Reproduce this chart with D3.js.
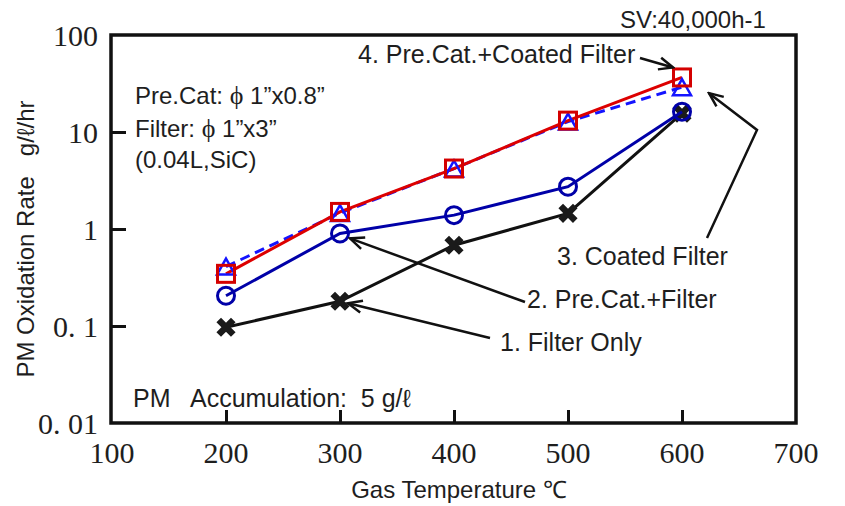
<!DOCTYPE html>
<html>
<head>
<meta charset="utf-8">
<script src="https://cdn.jsdelivr.net/npm/d3@7"></script>
<style>
  html, body { margin: 0; padding: 0; background: #fff; }
  svg { display: block; }
  .sans { font-family: "Liberation Sans", Arial, sans-serif; fill: #1e1e1e; }
  .serif { font-family: "Liberation Serif", "Times New Roman", serif; fill: #1e1e1e; }
</style>
</head>
<body>
<svg id="chart" width="845" height="506"></svg>
<script>
// Gas temperature (°C) at which each configuration was measured
const temperatures = [200, 300, 400, 500, 600];

// PM oxidation rate, g/ℓ/hr
const filterOnly        = [0.097, 0.18, 0.68, 1.45, 15.6];
const preCatFilter      = [0.205, 0.90, 1.39, 2.73, 16.2];
const coatedFilter      = [0.41, 1.46, 4.2, 12.8, 29];
const preCatCoated      = [0.345, 1.5, 4.2, 13.1, 36.5];

const xTicks = [100, 200, 300, 400, 500, 600, 700];
const yTicks = [0.01, 0.1, 1, 10, 100];
const yTickLabels = ["0. 01", "0. 1", "1", "10", "100"];

const svg = d3.select("#chart");

const x = d3.scaleLinear().domain([100, 700]).range([112, 796]);
const y = d3.scaleLog().domain([0.01, 100]).range([423, 35]);

// arrowhead: open chevron
const defs = svg.append("defs");
defs.append("marker")
  .attr("id", "arrow")
  .attr("markerUnits", "userSpaceOnUse")
  .attr("viewBox", "-16 -8 18 16")
  .attr("markerWidth", 18).attr("markerHeight", 16)
  .attr("refX", 0).attr("refY", 0)
  .attr("orient", "auto")
  .append("path")
  .attr("d", "M-14,-6 L0,0 L-14,6")
  .attr("fill", "none").attr("stroke", "#111").attr("stroke-width", 2.5);

// axes with inward ticks
const xAxis = d3.axisBottom(x).tickValues(xTicks.slice(1, -1)).tickSize(-13).tickFormat("");
const yAxis = d3.axisLeft(y).tickValues(yTicks.slice(1, -1)).tickSize(-14).tickFormat("");

const gx = svg.append("g").attr("transform", `translate(0,${y(0.01)})`).call(xAxis);
const gy = svg.append("g").attr("transform", `translate(${x(100)},0)`).call(yAxis);
[gx, gy].forEach(g => {
  g.select(".domain").remove();
  g.selectAll(".tick line").attr("stroke", "#111").attr("stroke-width", 3);
});

// frame
svg.append("rect")
  .attr("x", x(100) - 1).attr("y", y(100))
  .attr("width", x(700) - x(100) + 1).attr("height", y(0.01) - y(100))
  .attr("fill", "none").attr("stroke", "#111").attr("stroke-width", 3.5);

// tick labels
svg.selectAll(".xlab").data(xTicks).join("text")
  .attr("class", "serif")
  .attr("x", d => x(d)).attr("y", 463)
  .attr("text-anchor", "middle")
  .attr("font-size", 30)
  .text(d => d);

svg.selectAll(".ylab").data(yTicks).join("text")
  .attr("class", "serif")
  .attr("x", 98).attr("y", d => y(d) + 11)
  .attr("text-anchor", "end")
  .attr("font-size", 30)
  .text((d, i) => yTickLabels[i]);

// axis titles
svg.append("text").attr("class", "sans")
  .attr("x", 459).attr("y", 498)
  .attr("text-anchor", "middle").attr("font-size", 24)
  .text("Gas Temperature ℃");

svg.append("text").attr("class", "sans")
  .attr("transform", `translate(34,239) rotate(-90)`)
  .attr("text-anchor", "middle").attr("font-size", 24)
  .style("white-space", "pre")
  .text("PM Oxidation Rate   g/ℓ/hr");

// series lines and markers
const pts = vals => temperatures.map((t, i) => [t, vals[i]]);
const line = d3.line().x(d => x(d[0])).y(d => y(d[1]));

// 1. Filter Only
svg.append("path").datum(pts(filterOnly)).attr("d", line)
  .attr("fill", "none").attr("stroke", "#111").attr("stroke-width", 3);
svg.selectAll(".m1").data(pts(filterOnly)).join("path")
  .attr("transform", d => `translate(${x(d[0])},${y(d[1])})`)
  .attr("d", d3.symbol(d3.symbolTimes, 140))
  .attr("fill", "none").attr("stroke", "#1a1a1a").attr("stroke-width", 6.5);

// 3. Coated Filter (dashed)
svg.append("path").datum(pts(coatedFilter)).attr("d", line)
  .attr("fill", "none").attr("stroke", "#1414ff").attr("stroke-width", 3)
  .attr("stroke-dasharray", "10,6");

// 2. Pre.Cat.+Filter
svg.append("path").datum(pts(preCatFilter)).attr("d", line)
  .attr("fill", "none").attr("stroke", "#0000a8").attr("stroke-width", 3);

// 4. Pre.Cat.+Coated Filter
svg.append("path").datum(pts(preCatCoated)).attr("d", line)
  .attr("fill", "none").attr("stroke", "#dd0000").attr("stroke-width", 3);

svg.selectAll(".m3").data(pts(coatedFilter)).join("path")
  .attr("transform", d => `translate(${x(d[0])},${y(d[1]) + 1})`)
  .attr("d", "M0,-9 L9,7 L-9,7 Z")
  .attr("fill", "none").attr("stroke", "#1414ff").attr("stroke-width", 2.5);

svg.selectAll(".m2").data(pts(preCatFilter)).join("circle")
  .attr("cx", d => x(d[0])).attr("cy", d => y(d[1])).attr("r", 8.5)
  .attr("fill", "none").attr("stroke", "#0000a8").attr("stroke-width", 3);

svg.selectAll(".m4").data(pts(preCatCoated)).join("rect")
  .attr("x", d => x(d[0]) - 8.5).attr("y", d => y(d[1]) - 8.5)
  .attr("width", 17).attr("height", 17)
  .attr("fill", "none").attr("stroke", "#d40000").attr("stroke-width", 3);

// annotation arrows
const arrow = p => svg.append("path")
  .attr("d", d3.line()(p))
  .attr("fill", "none").attr("stroke", "#111").attr("stroke-width", 2.5)
  .attr("marker-end", "url(#arrow)");

arrow([[640, 58], [x(600) - 9, y(preCatCoated[4]) - 10]]);
arrow([[707, 238], [757, 130], [x(600) + 27, y(coatedFilter[4]) + 6]]);
arrow([[525, 302], [x(300) + 10, y(preCatFilter[1]) + 5]]);
arrow([[490, 338], [x(300) + 8, y(filterOnly[1]) + 2]]);

// labels
const label = (tx, ty, s) => svg.append("text").attr("class", "sans")
  .attr("x", tx).attr("y", ty).attr("font-size", 25).text(s);

label(620, 28, "SV:40,000h-1").attr("font-size", 24);
label(358, 63, "4. Pre.Cat.+Coated Filter");
label(557, 265, "3. Coated Filter");
label(527, 308, "2. Pre.Cat.+Filter");
label(500, 351, "1. Filter Only");

// test configuration
const spec = svg.append("g").attr("class", "sans").attr("font-size", 24);
const phiLine = (ty, before, after) => {
  const t = spec.append("text").attr("x", 135).attr("y", ty).style("white-space", "pre");
  t.append("tspan").text(before);
  t.append("tspan").attr("class", "serif").attr("font-size", 26).text("ϕ");
  t.append("tspan").text(after);
};
phiLine(104, "Pre.Cat: ", " 1”x0.8”");
phiLine(137, "Filter: ", " 1”x3”");
spec.append("text").attr("x", 135).attr("y", 168).text("(0.04L,SiC)");

svg.append("text").attr("class", "sans")
  .attr("x", 133).attr("y", 407).attr("font-size", 25)
  .style("white-space", "pre")
  .text("PM   Accumulation:  5 g/ℓ");
</script>
</body>
</html>
